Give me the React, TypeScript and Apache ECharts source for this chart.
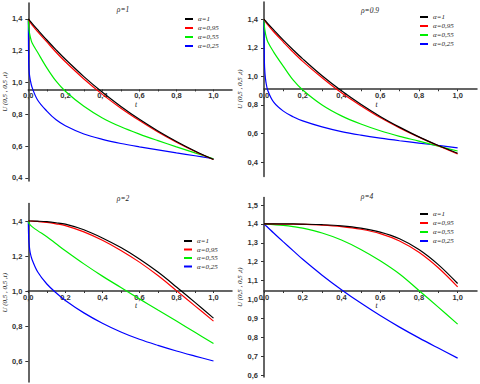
import React, { useEffect, useRef } from "react";
import * as echarts from "echarts";

// time samples (t)
const T = [0, 0.002, 0.005, 0.01, 0.02, 0.05, 0.1, 0.15, 0.2, 0.3, 0.4, 0.5, 0.6, 0.7, 0.8, 0.9, 1.0];

const SERIES_NAMES = ["α=1", "α=0,95", "α=0,55", "α=0,25"];
const SERIES_COLORS = ["#000000", "#ff0000", "#00ee00", "#0000ff"];

// ρ = 1
const rho1_a1 = [1.4, 1.397, 1.393, 1.386, 1.372, 1.332, 1.267, 1.205, 1.146, 1.037, 0.938, 0.849, 0.768, 0.695, 0.629, 0.569, 0.515];
const rho1_a095 = [1.4, 1.394, 1.388, 1.379, 1.363, 1.32, 1.255, 1.19, 1.13, 1.022, 0.925, 0.838, 0.76, 0.688, 0.624, 0.566, 0.515];
const rho1_a055 = [1.4, 1.35, 1.32, 1.29, 1.25, 1.19, 1.092, 1.008, 0.945, 0.85, 0.777, 0.721, 0.675, 0.634, 0.595, 0.557, 0.52];
const rho1_a025 = [1.4, 1.12, 1.06, 1.02, 0.97, 0.89, 0.82, 0.765, 0.728, 0.676, 0.642, 0.616, 0.595, 0.576, 0.557, 0.539, 0.52];

// ρ = 0.9
const rho09_a1 = [1.4, 1.397, 1.392, 1.385, 1.369, 1.325, 1.253, 1.186, 1.122, 1.004, 0.899, 0.805, 0.72, 0.645, 0.577, 0.517, 0.463];
const rho09_a095 = [1.4, 1.393, 1.387, 1.377, 1.36, 1.312, 1.24, 1.17, 1.105, 0.99, 0.885, 0.795, 0.712, 0.64, 0.575, 0.515, 0.457];
const rho09_a055 = [1.4, 1.35, 1.32, 1.285, 1.24, 1.17, 1.07, 0.975, 0.905, 0.8, 0.724, 0.667, 0.62, 0.581, 0.547, 0.512, 0.478];
const rho09_a025 = [1.4, 1.1, 1.02, 0.96, 0.9, 0.82, 0.757, 0.718, 0.689, 0.647, 0.614, 0.589, 0.568, 0.55, 0.534, 0.517, 0.5];

// ρ = 2
const rho2_a1 = [1.4, 1.4, 1.4, 1.4, 1.4, 1.399, 1.396, 1.39, 1.382, 1.35, 1.303, 1.248, 1.183, 1.108, 1.023, 0.935, 0.845];
const rho2_a095 = [1.4, 1.4, 1.4, 1.4, 1.399, 1.397, 1.392, 1.384, 1.374, 1.338, 1.29, 1.232, 1.165, 1.088, 1.002, 0.915, 0.828];
const rho2_a055 = [1.4, 1.39, 1.385, 1.378, 1.368, 1.345, 1.31, 1.27, 1.23, 1.155, 1.085, 1.02, 0.955, 0.891, 0.828, 0.764, 0.7];
const rho2_a025 = [1.4, 1.3, 1.26, 1.22, 1.18, 1.11, 1.04, 0.99, 0.946, 0.875, 0.816, 0.766, 0.724, 0.689, 0.657, 0.628, 0.6];

// ρ = 4
const rho4_a1 = [1.4, 1.4, 1.4, 1.4, 1.4, 1.4, 1.4, 1.4, 1.399, 1.396, 1.39, 1.378, 1.357, 1.322, 1.265, 1.185, 1.085];
const rho4_a095 = [1.4, 1.4, 1.4, 1.4, 1.4, 1.4, 1.399, 1.399, 1.398, 1.394, 1.386, 1.372, 1.349, 1.31, 1.25, 1.168, 1.067];
const rho4_a055 = [1.4, 1.4, 1.4, 1.399, 1.398, 1.396, 1.392, 1.386, 1.378, 1.352, 1.315, 1.265, 1.205, 1.135, 1.048, 0.96, 0.87];
const rho4_a025 = [1.4, 1.398, 1.395, 1.3905, 1.381, 1.352, 1.305, 1.259, 1.213, 1.129, 1.052, 0.981, 0.915, 0.854, 0.797, 0.743, 0.69];

// tick labels
const X_TICKS = [0, 0.2, 0.4, 0.6, 0.8, 1.0];
const X_MINOR = [0, 0.1, 0.2, 0.3, 0.4, 0.5, 0.6, 0.7, 0.8, 0.9, 1.0];
const Y_TICKS_1 = [0.4, 0.6, 0.8, 1.0, 1.2, 1.4];
const Y_TICKS_09 = [0.4, 0.6, 0.8, 1.0, 1.2, 1.4];
const Y_TICKS_2 = [0.6, 0.8, 1.0, 1.2, 1.4];
const Y_TICKS_4 = [0.6, 0.7, 0.8, 0.9, 1.0, 1.1, 1.2, 1.3, 1.4, 1.5];

const TITLES = ["ρ=1", "ρ=0.9", "ρ=2", "ρ=4"];
const Y_NAME = "U (0,5 , 0,5 ,t)";

export default function App() {
  const ref = useRef<HTMLDivElement>(null);
  useEffect(() => {
    if (!ref.current) return;
    const chart = echarts.init(ref.current, undefined, { renderer: "svg" });

    const panels = [
      { data: [rho1_a1, rho1_a095, rho1_a055, rho1_a025], yTicks: Y_TICKS_1, left: 21, top: 3, width: 211, height: 178, ymin: 0.38, ymax: 1.5, cross: 0.956, nameGap: 12, title: [123, 9], legend: [185, 15, 9] },
      { data: [rho09_a1, rho09_a095, rho09_a055, rho09_a025], yTicks: Y_TICKS_09, left: 264, top: 2, width: 213, height: 174.5, ymin: 0.3, ymax: 1.52, cross: 0.91, nameGap: 17, title: [370, 10], legend: [420, 13, 9] },
      { data: [rho2_a1, rho2_a095, rho2_a055, rho2_a025], yTicks: Y_TICKS_2, left: 21, top: 203.5, width: 211, height: 178.5, ymin: 0.48, ymax: 1.5, cross: 1.0, nameGap: 12, title: [123, 198], legend: [184, 237, 8.5] },
      { data: [rho4_a1, rho4_a095, rho4_a055, rho4_a025], yTicks: Y_TICKS_4, left: 264, top: 197.5, width: 213, height: 179.5, ymin: 0.59, ymax: 1.54, cross: 1.045, nameGap: 17, title: [367, 196], legend: [420, 210, 9] },
    ];

    const fmt = (v: number) => v.toFixed(1).replace(".", ",");
    const labelFont = { fontFamily: "'Liberation Sans', Arial, sans-serif", fontSize: 7.5, color: "#333", fontWeight: "bold" as const };
    const serifItalic = { fontFamily: "'Liberation Serif', 'DejaVu Serif', serif", fontStyle: "italic" as const, fontSize: 7.5, color: "#111" };

    const grid: any[] = [];
    const xAxis: any[] = [];
    const yAxis: any[] = [];
    const series: any[] = [];
    const legend: any[] = [];
    const graphic: any[] = [];

    panels.forEach((p, i) => {
      grid.push({ left: p.left, top: p.top, width: p.width, height: p.height, containLabel: false });
      const offset = -((p.cross - p.ymin) / (p.ymax - p.ymin)) * p.height;
      xAxis.push({
        type: "value", gridIndex: i, min: 0, max: 1.1, offset,
        name: "t", nameLocation: "middle", nameGap: 10,
        nameTextStyle: { ...serifItalic, padding: [0, 0, 0, 12] },
        axisLine: { onZero: false, lineStyle: { color: "#333", width: 1.5 } },
        axisTick: { show: true, length: 2, customValues: X_MINOR, lineStyle: { color: "#333" } },
        axisLabel: { customValues: X_TICKS, formatter: fmt, margin: 2, ...labelFont },
        splitLine: { show: false },
      });
      yAxis.push({
        type: "value", gridIndex: i, min: p.ymin, max: p.ymax,
        name: Y_NAME, nameLocation: "middle", nameGap: p.nameGap,
        nameTextStyle: { ...serifItalic, fontSize: 7 },
        axisLine: { onZero: false, lineStyle: { color: "#333", width: 1.5 } },
        axisTick: { show: true, length: 3, customValues: p.yTicks, lineStyle: { color: "#333" } },
        axisLabel: { customValues: p.yTicks, formatter: fmt, margin: 6, ...labelFont },
        splitLine: { show: false },
      });
      p.data.forEach((vals, k) => {
        series.push({
          type: "line", name: SERIES_NAMES[k], xAxisIndex: i, yAxisIndex: i,
          data: T.map((t, j) => [t, vals[j]]),
          showSymbol: false, smooth: 0.35,
          color: SERIES_COLORS[k],
          lineStyle: { width: 1.2, color: SERIES_COLORS[k] },
          z: 10 - k,
        });
      });
      legend.push({
        orient: "vertical", left: p.legend[0], top: p.legend[1], padding: 0,
        itemWidth: 8, itemHeight: 2, itemGap: p.legend[2] - 8,
        icon: "rect", data: SERIES_NAMES, selectedMode: false,
        textStyle: { ...serifItalic, fontSize: 7, lineHeight: 8, color: "#222" },
      });
      graphic.push({
        type: "text", x: p.title[0], y: p.title[1],
        style: { text: TITLES[i], font: "italic 7.5px 'Liberation Serif', serif", fill: "#222", textAlign: "center", textVerticalAlign: "middle", align: "center", verticalAlign: "middle" },
      });
    });

    chart.setOption({
      animation: false,
      backgroundColor: "#ffffff",
      grid, xAxis, yAxis, series, legend, graphic,
    });
    return () => chart.dispose();
  }, []);
  return <div ref={ref} style={{ position: "fixed", left: 0, top: 0, width: 480, height: 384 }} />;
}
